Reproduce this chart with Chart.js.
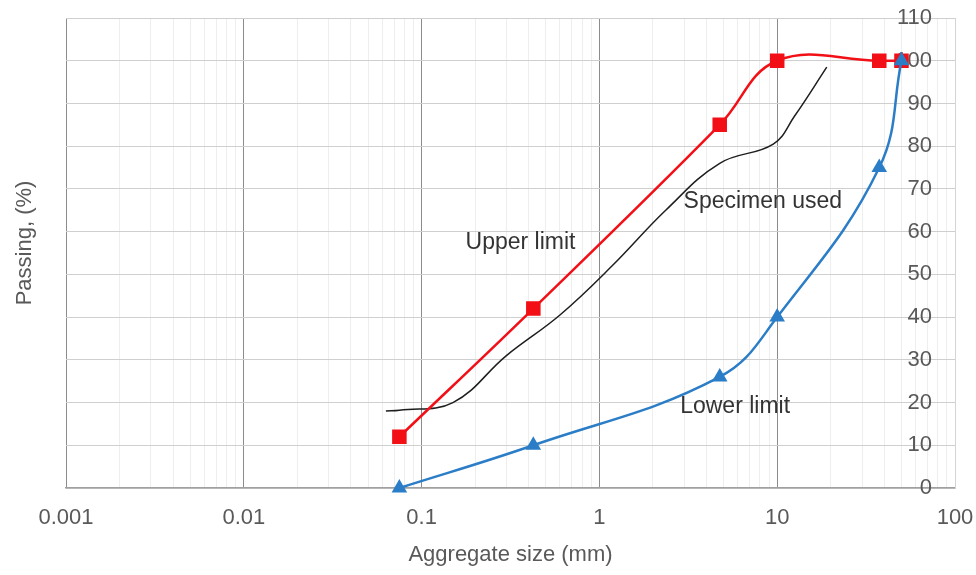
<!DOCTYPE html>
<html lang="en">
<head>
    <meta charset="UTF-8">
    <title>Aggregate Gradation</title>
    <style>
body {
    margin: 0;
    padding: 0;
    background: #fff;
}

#chart-box {
    width: 976px;
    height: 575px;
}
    </style>
</head>
<body>
    <div id="chart-box">
        <canvas id="gradationChart"></canvas>
    </div>

    <script src="https://cdn.jsdelivr.net/npm/chart.js"></script>
    <script>
        // Sieve sizes (mm) for the limit curves
        const limitSizes = [0.075, 0.425, 4.75, 10, 37.5, 50];
        const upperLimit = [12, 42, 85, 100, 100, 100];
        const lowerLimit = [0, 10, 26, 40, 75, 100];

        // Specimen used
        const specimenSizes = [0.063, 0.075, 0.15, 0.3, 0.6, 1.18, 2.36, 4.75, 9.5, 12.5, 19];
        const specimenPassing = [18, 18.2, 20, 31, 40.5, 52, 65, 76, 80.5, 87, 98.5];

        // Axis ticks
        const xDecades = [0.001, 0.01, 0.1, 1, 10, 100];
        const xDecadeLabels = ['0.001', '0.01', '0.1', '1', '10', '100'];
        const xMinorSteps = [2, 3, 4, 5, 6, 7, 8, 9];
        const yTicks = [0, 10, 20, 30, 40, 50, 60, 70, 80, 90, 100, 110];

        // Curve labels (text, size, passing)
        const curveLabels = [
            { text: 'Upper limit', x: 0.36, y: 57.5 },
            { text: 'Specimen used', x: 8.3, y: 67 },
            { text: 'Lower limit', x: 5.8, y: 19 }
        ];

        function toPoints(xs, ys) {
            return xs.map((x, i) => ({ x: x, y: ys[i] }));
        }

        function decadeIndex(v) {
            return xDecades.findIndex(d => Math.abs(v - d) / d < 1e-6);
        }

        const labelPlugin = {
            id: 'curveLabels',
            afterLayout(chart) {
                // nudge the left title a bit above the plot centre, like the original
                chart.scales.y2.bottom -= 20;
            },
            afterDatasetsDraw(chart) {
                const ctx = chart.ctx;
                const xs = chart.scales.x;
                const ys = chart.scales.y;
                ctx.save();
                ctx.font = '23px "Liberation Sans", Arial, sans-serif';
                ctx.fillStyle = '#333333';
                ctx.textAlign = 'center';
                ctx.textBaseline = 'middle';
                curveLabels.forEach(l => {
                    ctx.fillText(l.text, xs.getPixelForValue(l.x), ys.getPixelForValue(l.y));
                });
                ctx.restore();
            }
        };

        const tickFont = { family: '"Liberation Sans", Arial, sans-serif', size: 22 };

        const chart = new Chart(document.getElementById('gradationChart'), {
            type: 'line',
            data: {
                datasets: [
                    {
                        label: 'Lower limit',
                        data: toPoints(limitSizes, lowerLimit),
                        borderColor: '#2a7dc6',
                        backgroundColor: '#2a7dc6',
                        borderWidth: 2.5,
                        pointStyle: 'triangle',
                        pointRadius: 6.5,
                        tension: 0.4,
                        clip: false
                    },
                    {
                        label: 'Upper limit',
                        data: toPoints(limitSizes, upperLimit),
                        borderColor: '#f20f16',
                        backgroundColor: '#f20f16',
                        borderWidth: 2.5,
                        pointStyle: 'rect',
                        pointRadius: 8.5,
                        tension: 0.4,
                        clip: false
                    },
                    {
                        label: 'Specimen used',
                        data: toPoints(specimenSizes, specimenPassing),
                        borderColor: '#1e1e1e',
                        borderWidth: 1.5,
                        pointRadius: 0,
                        tension: 0.4
                    }
                ]
            },
            options: {
                responsive: true,
                maintainAspectRatio: false,
                animation: false,
                layout: {
                    padding: { left: 12, right: 21, top: 18, bottom: 7 }
                },
                plugins: {
                    legend: { display: false },
                    tooltip: { enabled: false }
                },
                scales: {
                    x: {
                        type: 'logarithmic',
                        min: 0.001,
                        max: 100,
                        afterBuildTicks: function(scale) {
                            const ticks = [];
                            xDecades.forEach((d, i) => {
                                ticks.push({ value: d, major: true });
                                if (i < xDecades.length - 1) {
                                    xMinorSteps.forEach(s => ticks.push({ value: d * s, major: false }));
                                }
                            });
                            scale.ticks = ticks;
                        },
                        afterFit: function(scale) {
                            scale.paddingLeft = 0;
                            scale.paddingRight = 0;
                            scale.height = 80;
                        },
                        ticks: {
                            autoSkip: false,
                            maxRotation: 0,
                            padding: 17,
                            color: '#595959',
                            font: tickFont,
                            callback: function(value) {
                                const i = decadeIndex(value);
                                return i >= 0 ? xDecadeLabels[i] : '';
                            }
                        },
                        grid: {
                            drawTicks: false,
                            color: function(ctx) {
                                const v = ctx.tick.value;
                                const i = decadeIndex(v);
                                if (i === xDecades.length - 1) return '#d4d4d4';
                                return i >= 0 ? '#8c8c8c' : '#eeeeee';
                            }
                        },
                        border: { color: '#a0a0a0', width: 1.5 },
                        title: {
                            display: true,
                            text: 'Aggregate size (mm)',
                            color: '#595959',
                            font: tickFont,
                            padding: { top: 0, bottom: 0 }
                        }
                    },
                    y: {
                        position: 'right',
                        min: 0,
                        max: 110,
                        afterBuildTicks: function(scale) {
                            scale.ticks = yTicks.map(v => ({ value: v }));
                        },
                        afterFit: function(scale) {
                            scale.paddingTop = 0;
                            scale.paddingBottom = 0;
                            scale.width = 0;
                        },
                        ticks: {
                            mirror: true,
                            padding: -23,
                            color: '#595959',
                            font: tickFont
                        },
                        grid: {
                            drawTicks: false,
                            color: '#cfcfcf'
                        },
                        border: { color: '#d4d4d4' }
                    },
                    y2: {
                        position: 'left',
                        min: 0,
                        max: 110,
                        ticks: { display: false },
                        grid: { display: false, drawTicks: false },
                        border: { display: false },
                        title: {
                            display: true,
                            text: 'Passing, (%)',
                            color: '#595959',
                            font: tickFont,
                            padding: { top: 0, bottom: 27.6 }
                        }
                    }
                }
            },
            plugins: [labelPlugin]
        });
    </script>
</body>
</html>
